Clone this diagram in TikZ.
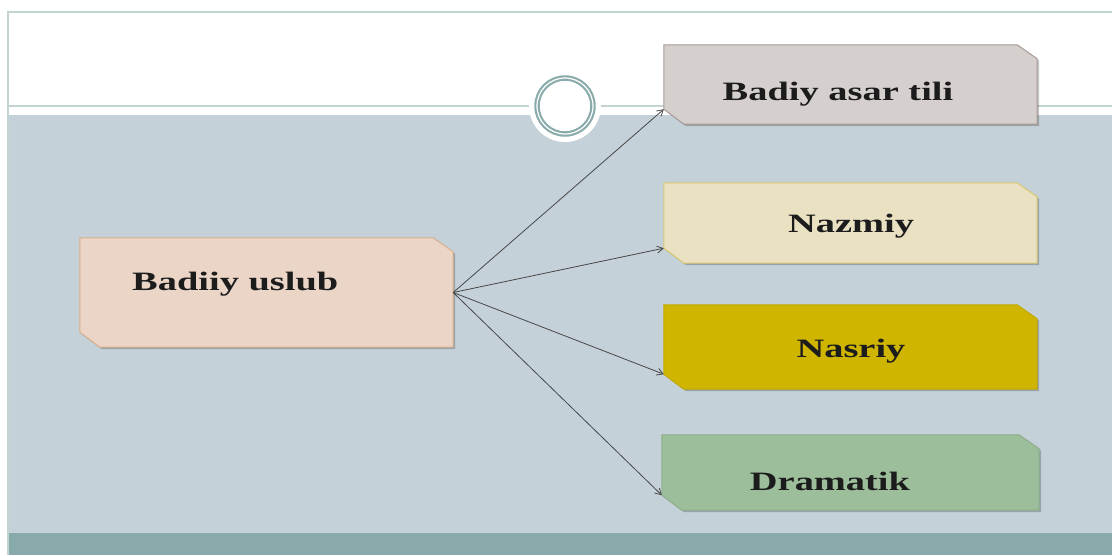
\documentclass[tikz,border=0pt]{standalone}
\usepackage{fontspec}
\usetikzlibrary{arrows.meta}
\newfontfamily\boxfont[FakeStretch=1.45]{Liberation Serif}
\definecolor{bgblue}{HTML}{C5D1D8}
\definecolor{teal}{HTML}{88AAAA}
\definecolor{frame}{HTML}{C3D5D3}
\definecolor{ring}{HTML}{8AABAB}
\definecolor{txt}{HTML}{1C1C1C}
\definecolor{fA}{HTML}{EBD5C6}\definecolor{dA}{HTML}{D8AE8A}
\definecolor{f1}{HTML}{D5D0CE}\definecolor{d1}{HTML}{A89A96}
\definecolor{f2}{HTML}{EAE0C2}\definecolor{d2}{HTML}{D8C870}
\definecolor{f3}{HTML}{CFB500}\definecolor{d3}{HTML}{C2AA00}
\definecolor{f4}{HTML}{9CBE9A}\definecolor{d4}{HTML}{8FAF8C}
\newcommand\chamf[3]{%
  \begin{scope}[transform canvas={shift={(1.8pt,-1.8pt)}}]
  \fill[black,opacity=.22] (#1.north west) -- ([xshift=-20pt]#1.north east) -- ([yshift=-14pt]#1.north east) -- (#1.south east) -- ([xshift=20pt]#1.south west) -- ([yshift=15pt]#1.south west) -- cycle;
  \end{scope}
  \filldraw[fill=#2,draw=#3,line width=1pt] (#1.north west) -- ([xshift=-20pt]#1.north east) -- ([yshift=-14pt]#1.north east) -- (#1.south east) -- ([xshift=20pt]#1.south west) -- ([yshift=15pt]#1.south west) -- cycle;}
\tikzset{
  boxnode/.style={draw=none,inner sep=0pt,minimum width=#1pt},
  lbl/.style={font=\boxfont\bfseries\fontsize{26.5pt}{30pt}\selectfont,text=txt,inner sep=0pt},
  conn/.style={draw=black!72,line width=0.8pt,-{Straight Barb[length=6pt,width=7pt]}}
}
\begin{document}
\begin{tikzpicture}[x=1pt,y=-1pt]
\useasboundingbox (0,0) rectangle (1112,555);
\fill[white] (0,0) rectangle (1112,555);
% background bands
\fill[bgblue] (8,115) rectangle (1112,533);
\fill[teal] (8,533) rectangle (1112,555);
\draw[frame,line width=1.6pt] (7,12) -- (1112,12);
\draw[frame,line width=1.6pt] (8,12) -- (8,555);
\draw[frame,line width=1.4pt] (8,106) -- (1112,106);
% circle ornament
\fill[white] (565,106) circle (36);
\draw[ring,line width=5.5pt] (565,106) circle (28);
\draw[white,line width=1.2pt] (565,106) circle (28);
% box nodes
\node[boxnode=373,minimum height=109pt] (u) at (266.5,292.5) {};
\node[boxnode=373,minimum height=79pt] (b1) at (850.5,84.5) {};
\node[boxnode=373,minimum height=80pt] (b2) at (850.5,223) {};
\node[boxnode=373,minimum height=84pt] (b3) at (850.5,347) {};
\node[boxnode=377,minimum height=75pt] (b4) at (850.5,472.5) {};
\chamf{u}{fA}{dA}
\chamf{b1}{f1}{d1}
\chamf{b2}{f2}{d2}
\chamf{b3}{f3}{d3}
\chamf{b4}{f4}{d4}
% labels
\node[lbl,anchor=base west] (tu) at (132,290) {Badiiy uslub};
\node[lbl,anchor=base] (t1) at (838,100) {Badiy asar tili};
\node[lbl,anchor=base] (t2) at (851,232) {Nazmiy};
\node[lbl,anchor=base] (t3) at (851,357) {Nasriy};
\node[lbl,anchor=base] (t4) at (830,490) {Dramatik};
% connectors
\draw[conn] (u.east) -- ([yshift=15pt]b1.south west);
\draw[conn] (u.east) -- ([yshift=15pt]b2.south west);
\draw[conn] (u.east) -- ([yshift=15pt]b3.south west);
\draw[conn] (u.east) -- ([yshift=15pt]b4.south west);
\end{tikzpicture}
\end{document}
